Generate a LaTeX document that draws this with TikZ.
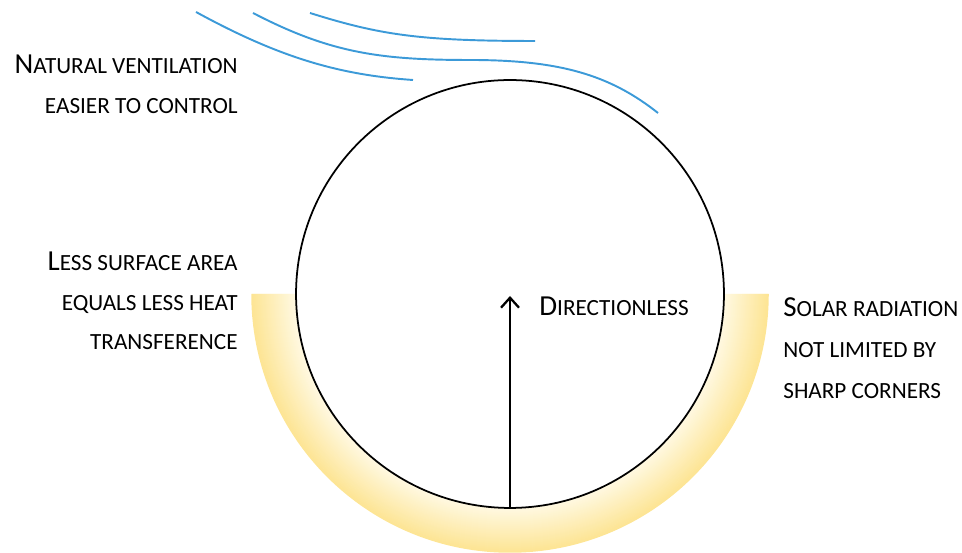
\documentclass[tikz,border=0pt]{standalone}
\usepackage{fontspec}
\setmainfont{Carlito}
\usetikzlibrary{arrows.meta,calc}
\definecolor{windblue}{HTML}{3C9AD8}
\definecolor{bandin}{HTML}{FFF9E3}
\definecolor{bandout}{HTML}{FDE595}
\newcommand{\smcsize}{\fontsize{13.2pt}{22.3pt}\selectfont}
\newcommand{\sm}[1]{{\smcsize\MakeUppercase{#1}}}

\begin{document}
\begin{tikzpicture}[x=0.02cm, y=0.02cm, >={Straight Barb[length=2mm,width=3.6mm]},
  txt/.style={font=\fontsize{16.5pt}{22.3pt}\selectfont, inner sep=0pt},
  wind/.style={windblue, line width=1.1pt}]
  \useasboundingbox (0,0) rectangle (962,553);

  % Yellow band under the sphere
  \foreach \r in {214,...,258}{
    \pgfmathsetmacro{\p}{(\r-214)/44*100}
    \draw[bandout!\p!bandin, line width=0.03cm] (510,259) ++(180:\r) arc[start angle=180, end angle=360, radius=\r*0.02cm];
  }

  % Sphere and its arrow
  \node[draw, circle, fill=white, line width=1pt, minimum size=8.56cm, inner sep=0pt] (sphere) at (510,259) {};
  \coordinate (tip) at (510,257);
  \draw[->, line width=1.3pt] (sphere.south) -- (tip);

  % Wind
  \draw[wind] (196,541) .. controls (280,495) and (340,478) .. (413,473);
  \draw[wind] (253,540) .. controls (330,500) and (380,493) .. (470,493)
                        .. controls (560,493) and (610,478) .. (658,440);
  \draw[wind] (310,540) .. controls (380,518) and (420,512) .. (535,512);

  % Labels
  \node[txt, anchor=north east, align=right] (ventilation) at (238,498) {N\sm{atural ventilation}\\\sm{easier to control}};
  \node[txt, anchor=north east, align=right] (surface) at (238,301) {L\sm{ess surface area}\\\sm{equals less heat}\\\sm{transference}};
  \node[txt, anchor=north west] (direction) at (539,256) {D\sm{irectionless}};
  \node[txt, anchor=north west, align=left] (solar) at (783,256) {S\sm{olar radiation}\\[1.2pt]\sm{not limited by}\\[1.2pt]\sm{sharp corners}};
\end{tikzpicture}
\end{document}
